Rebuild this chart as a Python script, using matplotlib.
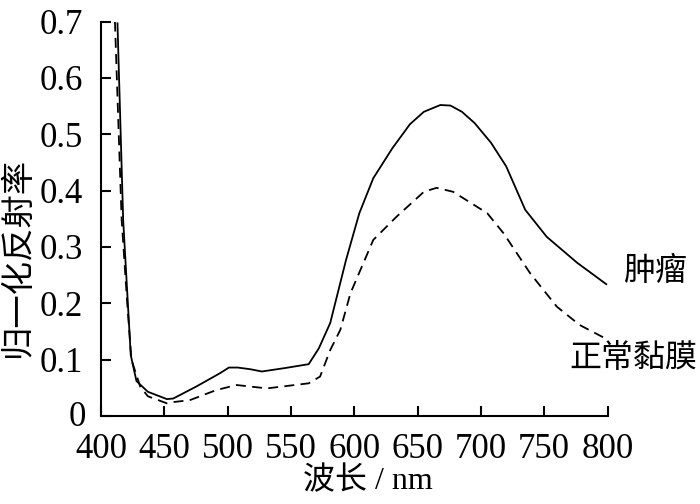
import matplotlib
matplotlib.use("Agg")
import matplotlib.pyplot as plt
import matplotlib.transforms as mtransforms

# ---- data ----
wl_tumor = [413, 417.5, 423.5, 428, 437, 452, 457, 475, 494, 501, 508, 518,
            527, 545, 564, 572, 581, 593.5, 604, 615, 630, 644, 655, 668,
            676, 685, 695, 708, 720, 735, 752, 776, 799]
refl_tumor = [0.697, 0.348, 0.108, 0.062, 0.043, 0.030, 0.031, 0.052, 0.076,
              0.086, 0.086, 0.083, 0.079, 0.085, 0.092, 0.120, 0.165, 0.277,
              0.360, 0.422, 0.475, 0.518, 0.540, 0.552, 0.551, 0.540, 0.520,
              0.485, 0.443, 0.366, 0.318, 0.272, 0.234]

wl_normal = [411, 416.3, 420.7, 424, 431, 437, 452, 458, 470, 491, 507, 531,
             564, 573, 581, 589, 597, 615, 633.5, 655, 665, 678, 705, 718,
             739, 760, 778, 798]
refl_normal = [0.700, 0.348, 0.200, 0.100, 0.052, 0.035, 0.0225, 0.025, 0.028,
               0.046, 0.055, 0.049, 0.058, 0.070, 0.117, 0.153, 0.218, 0.3125,
               0.354, 0.398, 0.405, 0.398, 0.360, 0.324, 0.253, 0.194, 0.1615,
               0.138]

x_ticks = [400, 450, 500, 550, 600, 650, 700, 750, 800]
y_ticks = [0, 0.1, 0.2, 0.3, 0.4, 0.5, 0.6, 0.7]
y_tick_labels = ["0", "0.1", "0.2", "0.3", "0.4", "0.5", "0.6", "0.7"]

label_tumor = "肿瘤"
label_normal = "正常黏膜"
x_label = "波长 / nm"
y_label = "归一化反射率"

SERIF = ["Liberation Serif", "Noto Sans CJK SC", "DejaVu Sans"]
CJK = ["Noto Sans CJK SC", "DejaVu Sans"]

fig = plt.figure(figsize=(7.0, 5.04), dpi=100)
ax = fig.add_axes([0.1443, 0.1746, 0.7236, 0.7825])

ax.plot(wl_tumor, refl_tumor, color="black", lw=1.3, solid_joinstyle="miter")
ax.plot(wl_normal, refl_normal, color="black", lw=1.3,
        linestyle=(0, (5.5, 3.5)))

ax.set_xlim(400, 800)
ax.set_ylim(0, 0.7)
for s in ["top", "right"]:
    ax.spines[s].set_visible(False)
for s in ["left", "bottom"]:
    ax.spines[s].set_linewidth(1.5)

ax.set_xticks(x_ticks)
ax.set_xticklabels([str(v) for v in x_ticks])
ax.set_yticks(y_ticks)
ax.set_yticklabels(y_tick_labels)
ax.tick_params(axis="both", direction="in", length=7, width=1.5,
               labelsize=25)
ax.tick_params(axis="x", pad=12.5)
ax.tick_params(axis="y", pad=13)
for lab in ax.get_xticklabels() + ax.get_yticklabels():
    lab.set_fontfamily(SERIF)

# shift the "0" label slightly right
zero_lab = ax.get_yticklabels()[0]
zero_lab.set_transform(zero_lab.get_transform() +
                       mtransforms.ScaledTranslation(3 / 100, 2.5 / 100,
                                                     fig.dpi_scale_trans))

fig.text(368 / 700, 1 - 481 / 504, x_label, ha="center", va="center",
         fontsize=23, family=SERIF)
fig.text(17 / 700, 1 - 257 / 504, y_label, ha="center", va="center",
         rotation=90, fontsize=24, family=CJK)

ax.text(837.6, 0.257, label_tumor, ha="center", va="center",
        fontsize=23, family=CJK)
ax.text(820.2, 0.103, label_normal, ha="center", va="center",
        fontsize=23, family=CJK)

fig.savefig("out.png", dpi=100)
